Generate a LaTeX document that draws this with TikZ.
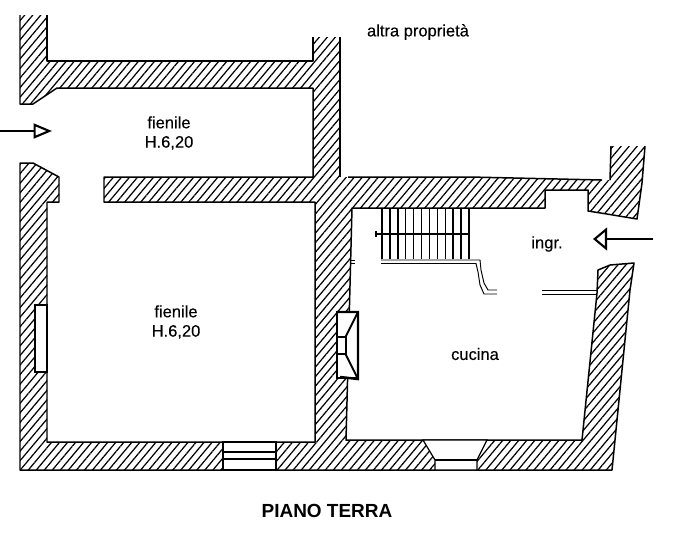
\documentclass[tikz,border=0pt]{standalone}
\usepackage{fontspec}
\setmainfont{Liberation Sans}
\newfontfamily\labelfont[FakeBold=0.25]{Liberation Sans}
\usetikzlibrary{arrows.meta,patterns.meta}
\tikzset{
	wallfill/.style={pattern={Lines[angle=50,distance=3.5pt,line width=.7pt]}},
	wallline/.style={draw=black, line width=.85pt, line join=round},
	opening/.style={draw=black, line width=.7pt, fill=white},
	partition/.style={black, line width=.55pt},
	tread/.style={black, line width=.8pt},
	entrywest/.style={line width=1.3pt, -{Triangle[open,length=10.5pt,width=8.5pt,line width=1.2pt]}},
	entryeast/.style={line width=1.3pt, -{Triangle[open,length=8pt,width=13pt,line width=1.2pt]}},
	label/.style={inner sep=0pt, font=\labelfont\fontsize{9.4}{11}\selectfont, align=center}
}
\begin{document}
\begin{tikzpicture}[x=0.02cm, y=-0.02cm]
	\useasboundingbox (0,0) rectangle (688,542);
	\fill[white] (0,0) rectangle (688,542);
	\fill[wallfill] (20,15) -- (47,15) -- (47,61) -- (313,61) -- (313,37) -- (340,37) -- (340,177)
		-- (470,177) -- (602,180) -- (610,180) -- (611,146) -- (645,146) -- (642,183) -- (637,219)
		-- (607,214) -- (588,211) -- (588,190) -- (545,190) -- (545,208) -- (352,208) -- (346,440)
		-- (582,440) -- (597,293) -- (598,270) -- (610,265) -- (634,263) -- (630,290) -- (612,470)
		-- (20,470) -- (20,163) -- (33,163) -- (59,177) -- (59,202) -- (47,202) -- (47,442)
		-- (315,442) -- (315,202) -- (104,202) -- (104,177) -- (313,177) -- (313,88) -- (57,88)
		-- (33,104) -- (20,104) -- cycle;
	\draw[wallline] (47,15) -- (47,61) -- (313,61) -- (313,37);
	\draw[wallline] (340,37) -- (340,177);
	\draw[wallline] (348,177) -- (470,177) -- (602,180);
	\draw[wallline] (610,180) -- (611,146);
	\draw[wallline] (645,146) -- (642,183) -- (637,219)
		-- (607,214) -- (588,211) -- (588,190) -- (545,190) -- (545,208) -- (352,208) -- (346,440)
		-- (582,440) -- (597,293) -- (598,270) -- (610,265) -- (634,263) -- (630,290) -- (612,470)
		-- (20,470) -- (20,163) -- (33,163) -- (59,177) -- (59,202) -- (47,202) -- (47,442)
		-- (315,442) -- (315,202) -- (104,202) -- (104,177) -- (313,177) -- (313,88) -- (57,88)
		-- (33,104) -- (20,104) -- (20,15);
	\draw[opening] (47,305) rectangle (35,372);
	\draw[opening] (223,442) rectangle (276,470);
	\draw[black, line width=1.3pt] (223,452) -- (276,452);
	\draw[black, line width=1.3pt] (223,459) -- (276,459);
	\draw[opening] (423,440) -- (435,460) -- (435,470) -- (477,470) -- (477,460) -- (487,440) -- cycle;
	\draw[black, line width=.7pt] (435,460) -- (477,460);
	\draw[opening] (358,312) -- (337,312) -- (337,378) -- (358,378);
	\draw[black, line width=1.4pt] (337,312) -- (358,312) -- (358,379) -- (340,377);
	\draw[black, line width=1.1pt] (358,312) -- (346,336) -- (346,355) -- (358,379);
	\draw[black, line width=1.1pt] (336,337) -- (346,337);
	\draw[black, line width=1.1pt] (337,354) -- (346,354);
	\foreach \x in {382,389.9,...,469} {
		\draw[tread] (\x,208) -- (\x,259);
	}
	\draw[tread] (376,234) -- (468,234);
	\draw[tread] (376,231) -- (376,237);
	\draw[partition] (381,260) -- (480,260) -- (481,270) -- (484,283) -- (488,290) -- (497,290);
	\draw[partition] (381,263.5) -- (476,263.5) -- (478,272) -- (480,285) -- (484,294) -- (497,294);
	\draw[partition] (351,260) -- (355,260);
	\draw[partition] (351,263.5) -- (355,263.5);
	\draw[partition] (542,290.5) -- (597,290.5);
	\draw[partition] (542,294.5) -- (597,294.5);
	\coordinate (westtail) at (0,131);
	\coordinate (westtip) at (52,131);
	\coordinate (easttail) at (653,239);
	\coordinate (easttip) at (593,239);
	\draw[entrywest] (westtail) -- (westtip);
	\draw[entryeast] (easttail) -- (easttip);
	\node[label] (barnnorth) at (169,133) {fienile\\H.6,20};
	\node[label] (barnsouth) at (176,322) {fienile\\H.6,20};
	\node[label] (kitchen) at (475,354) {cucina};
	\node[label] (entrance) at (547,244) {ingr.};
	\node[label] (neighbour) at (418,32) {altra proprietà};
	\node[label, font=\fontsize{10.8}{13}\selectfont\bfseries] (title) at (327,511) {PIANO TERRA};
\end{tikzpicture}
\end{document}
